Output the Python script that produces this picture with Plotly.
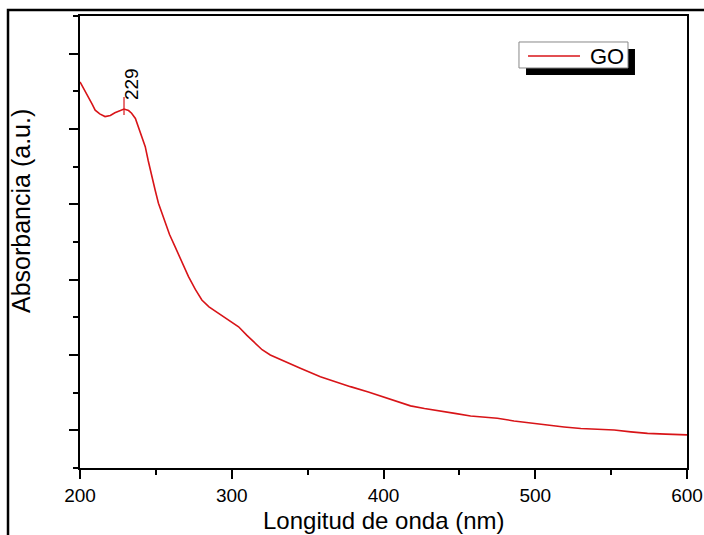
"""UV-Vis absorbance spectrum of GO, redrawn with plotly."""

import plotly.graph_objects as go

# wavelength (nm) and absorbance (a.u., arbitrary scale 0-12)
wavelength = [200, 201, 203, 205.5, 208, 210, 213, 216.5, 220, 223, 226, 229,
              232, 234, 236.5, 238.5, 241, 243, 245, 247.3, 249.5, 251.7,
              254, 256.1, 259, 262.7, 267, 271.5, 276, 280.3, 285, 291.3,
              297, 304.5, 310, 315.5, 320, 325.4, 335, 345.2, 358.4, 368,
              378.2, 390, 400.2, 410, 417.8, 427, 437.6, 447, 457.4, 466,
              475, 486, 497, 508, 519, 530, 541, 552, 563, 574, 586, 593, 600]
absorbance = [10.25, 10.18, 10.02, 9.86, 9.66, 9.50, 9.40, 9.33, 9.36, 9.43, 9.47, 9.53,
              9.49, 9.42, 9.28, 9.06, 8.80, 8.53, 8.15, 7.73, 7.38, 7.03,
              6.75, 6.50, 6.20, 5.87, 5.47, 5.08, 4.74, 4.46, 4.28, 4.11,
              3.95, 3.75, 3.52, 3.31, 3.14, 3.00, 2.82, 2.65, 2.42, 2.29,
              2.16, 2.02, 1.89, 1.76, 1.65, 1.58, 1.52, 1.45, 1.38, 1.35,
              1.32, 1.25, 1.19, 1.14, 1.09, 1.05, 1.03, 1.01, 0.96, 0.92, 0.90, 0.89, 0.88]

series_name = "GO"
peak_nm = 229
peak_abs = 9.53
x_title = "Longitud de onda (nm)"
y_title = "Absorbancia (a.u.)"

FONT = "Liberation Sans, Arial, sans-serif"
RED = "#d81418"

fig = go.Figure()
fig.add_trace(go.Scatter(x=wavelength, y=absorbance, mode="lines", name=series_name,
                         line=dict(color=RED, width=1.6), showlegend=False))

axis_common = dict(showline=True, linecolor="black", linewidth=2, mirror=True,
                   ticks="outside", ticklen=9, tickwidth=1.6, tickcolor="black",
                   showgrid=False, zeroline=False, automargin=False)

fig.update_xaxes(range=[200, 600], tick0=200, dtick=100,
                 tickfont=dict(family=FONT, size=19, color="black"),
                 minor=dict(ticks="outside", ticklen=5, tickwidth=1.6,
                            tickcolor="black", dtick=50, tick0=200),
                 **axis_common)
fig.update_yaxes(range=[0, 12], tick0=1, dtick=2, showticklabels=False,
                 minor=dict(ticks="outside", ticklen=5, tickwidth=1.6,
                            tickcolor="black", dtick=2, tick0=0),
                 **axis_common)

shapes = [
    # outer frame around the whole figure (only left and top edges are visible)
    dict(type="rect", xref="paper", yref="paper", x0=-0.1186, x1=2, y0=-2, y1=1.0133,
         line=dict(color="black", width=2.5), fillcolor="rgba(0,0,0,0)"),
    # legend shadow and box
    dict(type="rect", xref="paper", yref="paper", x0=0.7348, x1=0.9143, y0=0.8695, y1=0.927,
         line=dict(width=0), fillcolor="black"),
    dict(type="rect", xref="paper", yref="paper", x0=0.7232, x1=0.9028, y0=0.885, y1=0.9425,
         line=dict(color="#888888", width=1), fillcolor="white"),
    dict(type="line", xref="paper", yref="paper", x0=0.7381, x1=0.8237, y0=0.9115, y1=0.9115,
         line=dict(color=RED, width=1.6)),
    # small marker on the peak
    dict(type="line", xref="x", yref="y", x0=peak_nm, x1=peak_nm, ysizemode="pixel",
         yanchor=peak_abs, y0=-6, y1=12, line=dict(color=RED, width=1.2)),
]

annotations = [
    dict(text=series_name, xref="paper", yref="paper", x=0.8369, y=0.9115,
         xanchor="left", yanchor="middle", showarrow=False,
         font=dict(family=FONT, size=22, color="black")),
    dict(text=str(peak_nm), xref="x", yref="y", x=peak_nm, y=peak_abs,
         xanchor="center", yanchor="bottom", textangle=-90, showarrow=False,
         xshift=7, yshift=7, font=dict(family=FONT, size=19, color="black")),
    dict(text=x_title, xref="paper", yref="paper", x=0.5, y=-0.116,
         xanchor="center", yanchor="middle", showarrow=False,
         font=dict(family=FONT, size=24, color="black")),
    dict(text=y_title, xref="paper", yref="paper", x=-0.0972, y=0.5686,
         xanchor="center", yanchor="middle", textangle=-90, showarrow=False,
         font=dict(family=FONT, size=25, color="black")),
]

fig.update_layout(width=704, height=535, margin=dict(l=80, r=17, t=16, b=67),
                  paper_bgcolor="white", plot_bgcolor="white",
                  shapes=shapes, annotations=annotations)

# drop the browser's default 8 px body margin so the figure fills the window exactly
fig.write_html("out.html", config={"displayModeBar": False},
               post_script="document.body.style.margin='0';"
                           "document.body.style.overflow='hidden';")
